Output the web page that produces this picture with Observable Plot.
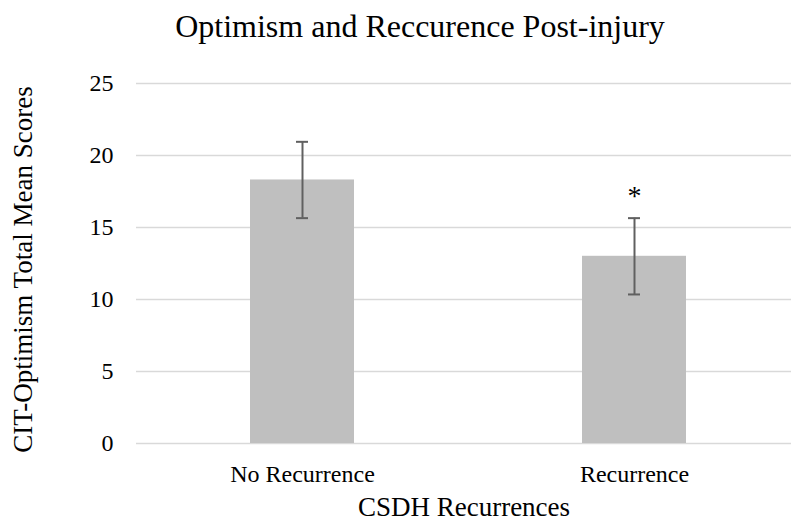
<!DOCTYPE html>
<html>
<head>
<meta charset="utf-8">
<script src="https://cdn.jsdelivr.net/npm/d3@7"></script>
<script src="https://cdn.jsdelivr.net/npm/@observablehq/plot@0.6"></script>
<style>
  html, body { margin: 0; padding: 0; background: #fff; }
  #title { width: 791px; box-sizing: border-box; padding-left: 49px; height: 60px; text-align: center;
           font-family: "Liberation Serif", "DejaVu Serif", serif; font-size: 32px; line-height: 32px; padding-top: 10px; color: #000; }
  #chart svg { display: block; }
</style>
</head>
<body>
<div id="title">Optimism and Reccurence Post-injury</div>
<div id="chart"></div>
<script>
const categories = ["No Recurrence", "Recurrence"];
const means = [18.3, 13.0];
const errors = [2.65, 2.65];
const significance = ["", "*"];
const yTicks = [0, 5, 10, 15, 20, 25];
const yLabel = "CIT-Optimism Total Mean Scores";
const xLabel = "CSDH Recurrences";

const data = categories.map((c, i) => ({
  cat: c, mean: means[i], lo: means[i] - errors[i], hi: means[i] + errors[i], sig: significance[i]
}));

const font = '"Liberation Serif", "DejaVu Serif", serif';

const chart = Plot.plot({
  width: 791,
  height: 461,
  marginTop: 23,
  marginBottom: 78,
  marginLeft: 136,
  marginRight: 0,
  style: { fontFamily: font, fontSize: "22px", color: "#000", background: "#fff" },
  x: { domain: categories, range: [136, 800], paddingInner: 0.687, paddingOuter: 0.3435, align: 0.5, label: null },
  y: { domain: [0, 25], ticks: yTicks, label: null },
  marks: [
    Plot.ruleY(yTicks, { stroke: "#d9d9d9", strokeWidth: 1.5 }),
    Plot.barY(data, { x: "cat", y: "mean", fill: "#bfbfbf" }),
    Plot.ruleX(data, { x: "cat", y1: "lo", y2: "hi", stroke: "#606060", strokeWidth: 2 }),
    Plot.tickY(data, { x: "cat", y: "lo", stroke: "#606060", strokeWidth: 2, insetLeft: 46, insetRight: 46 }),
    Plot.tickY(data, { x: "cat", y: "hi", stroke: "#606060", strokeWidth: 2, insetLeft: 46, insetRight: 46 }),
    Plot.text(data, { x: "cat", y: "hi", text: "sig", dy: -22, fontSize: 28, fill: "#000" }),
    Plot.axisY({ ticks: yTicks, tickSize: 0, tickPadding: 23, fontSize: 24, fill: "#000" }),
    Plot.text([yLabel], { text: d => d, frameAnchor: "left", textAnchor: "middle", lineAnchor: "middle",
                          rotate: -90, dx: -113, dy: 6, fontSize: 27, fill: "#000" }),
    Plot.axisX({ tickSize: 0, tickPadding: 21, fontSize: 24, fill: "#000" }),
    Plot.axisX({ ticks: [], tickSize: 0, fontSize: 27, label: xLabel, labelAnchor: "center",
                 labelArrow: "none", labelOffset: 72, fill: "#000" })
  ]
});
document.getElementById("chart").appendChild(chart);
</script>
</body>
</html>
